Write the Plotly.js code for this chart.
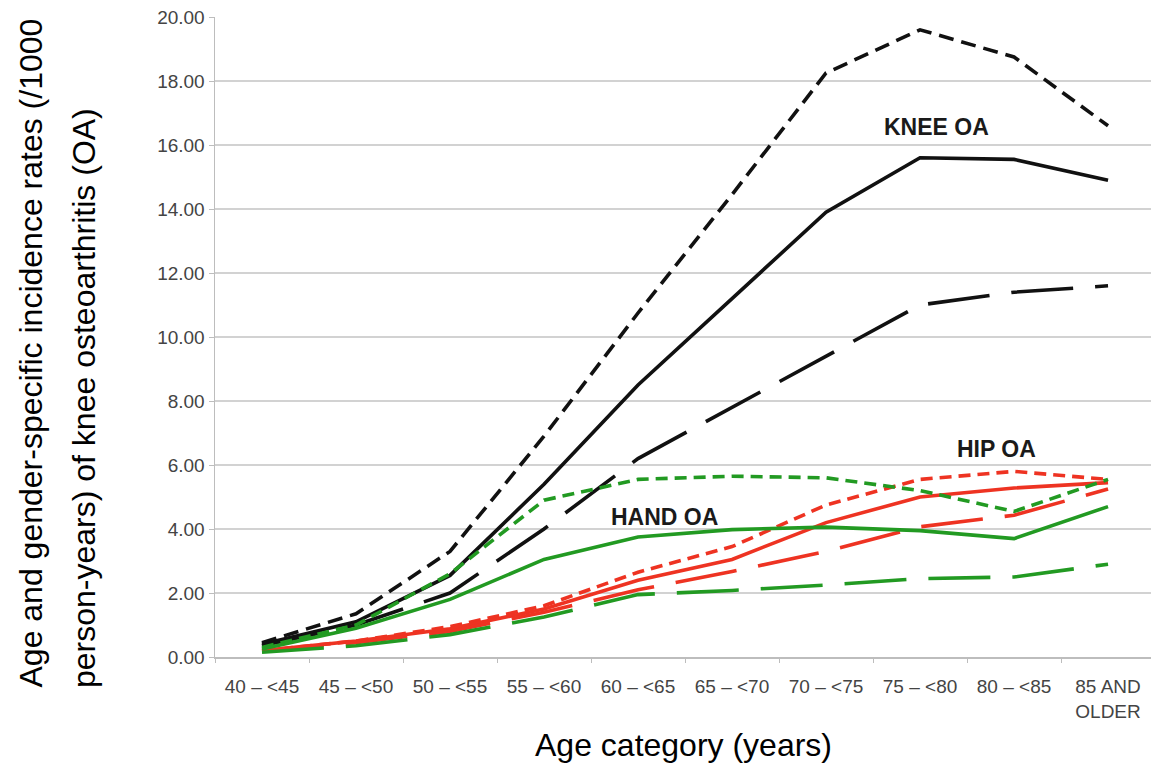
<!DOCTYPE html>
<html>
<head>
<meta charset="utf-8">
<script src="https://cdn.plot.ly/plotly-3.0.1.min.js"></script>
<style>html,body{margin:0;padding:0;background:#fff;}#chart{width:1151px;height:769px;}</style>
</head>
<body>
<div id="chart"></div>
<script>
const categories = ['40 \u2013 <45','45 \u2013 <50','50 \u2013 <55','55 \u2013 <60','60 \u2013 <65','65 \u2013 <70','70 \u2013 <75','75 \u2013 <80','80 \u2013 <85','85 AND<br>OLDER'];

const kneeWomen = [0.45, 1.35, 3.3, 6.9, 10.75, 14.45, 18.25, 19.6, 18.75, 16.6];
const kneeAll   = [0.4, 1.1, 2.55, 5.4, 8.5, 11.2, 13.9, 15.6, 15.55, 14.9];
const kneeMen   = [0.35, 1.0, 2.0, 4.0, 6.2, 7.8, 9.4, 11.0, 11.4, 11.6];

const hipWomen  = [0.2, 0.5, 0.95, 1.6, 2.65, 3.45, 4.75, 5.55, 5.8, 5.55];
const hipAll    = [0.2, 0.5, 0.88, 1.5, 2.4, 3.05, 4.2, 5.0, 5.28, 5.45];
const hipMen    = [0.18, 0.45, 0.8, 1.4, 2.1, 2.67, 3.3, 4.07, 4.43, 5.25];

const handWomen = [0.3, 1.0, 2.6, 4.9, 5.55, 5.65, 5.6, 5.2, 4.55, 5.55];
const handAll   = [0.25, 0.9, 1.8, 3.05, 3.75, 3.98, 4.06, 3.95, 3.7, 4.7];
const handMen   = [0.15, 0.35, 0.7, 1.25, 1.95, 2.08, 2.25, 2.45, 2.5, 2.9];

const BLACK = '#111111', RED = '#ee3322', GREEN = '#229a22';
const SHORT = '12px,7px', LONG = '62px,22px';

function tr(y, color, dash) {
  return {x: categories, y: y, type: 'scatter', mode: 'lines',
          line: {color: color, width: 3.6, dash: dash}, hoverinfo: 'skip'};
}

const data = [
  tr(kneeWomen, BLACK, '15px,8px'), tr(kneeAll, BLACK, 'solid'), tr(kneeMen, BLACK, LONG),
  tr(hipWomen, RED, SHORT), tr(hipAll, RED, 'solid'), tr(hipMen, RED, LONG),
  tr(handWomen, GREEN, SHORT), tr(handAll, GREEN, 'solid'), tr(handMen, GREEN, LONG)
];

const FONT = '"Liberation Sans", Arial, Helvetica, sans-serif';

const layout = {
  width: 1151, height: 769,
  margin: {l: 215, r: 0, t: 17, b: 112},
  paper_bgcolor: '#fff', plot_bgcolor: '#fff',
  showlegend: false,
  font: {family: FONT},
  xaxis: {
    type: 'category', range: [-0.5, 9.457],
    showline: true, linecolor: '#bdbdbd', linewidth: 1.5,
    ticks: 'outside', tickson: 'boundaries', ticklen: 4, tickcolor: '#bdbdbd',
    tickfont: {size: 19, color: '#444', family: FONT},
    ticklabelstandoff: 12,
    showgrid: false, zeroline: false
  },
  yaxis: {
    range: [0, 20], dtick: 2, tick0: 0, tickformat: '.2f',
    showline: true, linecolor: '#bdbdbd', linewidth: 1.5,
    ticks: 'outside', ticklen: 5, tickcolor: '#bdbdbd',
    tickfont: {size: 19, color: '#444', family: FONT},
    showgrid: true, gridcolor: '#d2d2d2', gridwidth: 1.5, zeroline: false
  },
  annotations: [
    {text: '<b>KNEE OA</b>', x: 7.18, y: 16.56, xref: 'x', yref: 'y', showarrow: false,
     font: {size: 23, color: '#1a1a1a', family: FONT}},
    {text: '<b>HIP OA</b>', x: 7.81, y: 6.5, xref: 'x', yref: 'y', showarrow: false,
     font: {size: 23, color: '#1a1a1a', family: FONT}},
    {text: '<b>HAND OA</b>', x: 4.28, y: 4.375, xref: 'x', yref: 'y', showarrow: false,
     font: {size: 23, color: '#1a1a1a', family: FONT}},
    {text: 'Age category (years)', x: 0.5, y: 0, xref: 'paper', yref: 'paper',
     xanchor: 'center', yanchor: 'middle', yshift: -88, showarrow: false,
     font: {size: 32, color: '#000', family: FONT}},
    {text: 'Age and gender-specific incidence rates (/1000', x: 0, y: 0, xref: 'paper', yref: 'paper',
     xanchor: 'center', yanchor: 'bottom', xshift: -185, yshift: -33, textangle: -90, showarrow: false,
     font: {size: 32, color: '#000', family: FONT}},
    {text: 'person-years) of knee osteoarthritis (OA)', x: 0, y: 0, xref: 'paper', yref: 'paper',
     xanchor: 'center', yanchor: 'bottom', xshift: -131, yshift: -33, textangle: -90, showarrow: false,
     font: {size: 32, color: '#000', family: FONT}}
  ]
};

Plotly.newPlot('chart', data, layout, {staticPlot: true, displayModeBar: false});
</script>
</body>
</html>
